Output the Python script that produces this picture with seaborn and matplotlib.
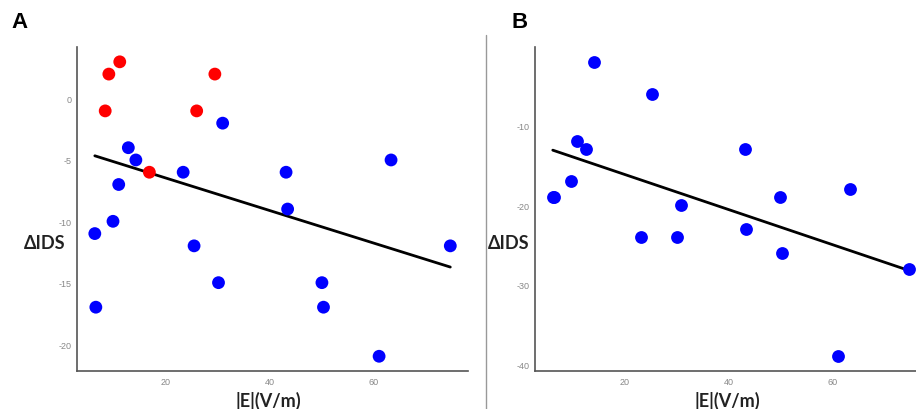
"""Scatter plots of ΔIDS against |E| with linear fits (panels A and B)."""
import numpy as np
import pandas as pd
import matplotlib
matplotlib.use("Agg")
import matplotlib.pyplot as plt
import seaborn as sns

# Panel A: red group
red_e = [9.0, 11.1, 8.3, 29.4, 25.9, 16.8]
red_ids = [2, 3, -1, 2, -1, -6]

# Panel A: blue group (same electrodes reused in panel B)
blue_e = [30.9, 12.75, 14.2, 23.3, 43.1, 63.3, 10.9, 43.4, 9.8, 6.3,
          25.4, 74.7, 30.1, 50.0, 6.5, 50.3, 61.0]
blue_ids_a = [-2, -4, -5, -6, -6, -5, -7, -9, -10, -11,
              -12, -12, -15, -15, -17, -17, -21]

# Panel B values for the same |E| points
blue_ids_b = [-20, -13, -2, -24, -13, -18, -12, -23, -17, -19,
              -6, -28, -24, -19, -19, -26, -39]

x_ticks = [20, 40, 60]
y_ticks_a = [0, -5, -10, -15, -20]
y_ticks_b = [-10, -20, -30, -40]

LABEL_FONT = ["Lato", "DejaVu Sans"]


def expand(values, frac=0.05):
    lo, hi = min(values), max(values)
    pad = (hi - lo) * frac
    return lo - pad, hi + pad


def style_axes(ax, yticks):
    sns.despine(ax=ax)
    for side in ("left", "bottom"):
        ax.spines[side].set_color("#555555")
        ax.spines[side].set_linewidth(1.2)
    ax.set_xticks(x_ticks)
    ax.set_yticks(yticks)
    ax.tick_params(axis="both", length=2.5, width=0.8, color="#777777",
                   labelsize=6.5, labelcolor="#888888", pad=1.5)
    ax.grid(False)


def main():
    sns.set_style("white")
    plt.rcParams["font.family"] = ["Liberation Sans", "DejaVu Sans"]
    plt.rcParams["axes.unicode_minus"] = False

    df_a = pd.DataFrame({
        "E": red_e + blue_e,
        "IDS": red_ids + blue_ids_a,
        "group": ["red"] * len(red_e) + ["blue"] * len(blue_e),
    })
    df_b = pd.DataFrame({"E": blue_e, "IDS": blue_ids_b})

    fig = plt.figure(figsize=(9.16, 4.10), dpi=100)
    ax_a = fig.add_axes([0.0841, 0.0927, 0.4269, 0.790])
    ax_b = fig.add_axes([0.584, 0.0927, 0.428, 0.790])

    # Panel A
    sns.regplot(data=df_a, x="E", y="IDS", ci=None, scatter=False, ax=ax_a,
                line_kws={"color": "black", "linewidth": 2})
    sns.scatterplot(data=df_a, x="E", y="IDS", hue="group",
                    palette={"red": "#ff0000", "blue": "#0000ff"},
                    s=85, linewidth=0, legend=False, ax=ax_a, zorder=3)
    ax_a.set_xlim(*expand(df_a["E"]))
    ax_a.set_ylim(*expand(df_a["IDS"]))
    style_axes(ax_a, y_ticks_a)

    # Panel B
    sns.regplot(data=df_b, x="E", y="IDS", ci=None, scatter=False, ax=ax_b,
                line_kws={"color": "black", "linewidth": 2})
    sns.scatterplot(data=df_b, x="E", y="IDS", color="#0000ff",
                    s=85, linewidth=0, ax=ax_b, zorder=3)
    ax_b.set_xlim(*expand(df_b["E"]))
    ax_b.set_ylim(*expand(df_b["IDS"]))
    style_axes(ax_b, y_ticks_b)

    # axis titles
    for ax, ylab_x in ((ax_a, -0.03), (ax_b, -0.013)):
        ax.set_xlabel("|E|(V/m)", fontsize=13, fontweight="bold",
                      family=LABEL_FONT, color="#222222", va="center")
        ax.xaxis.set_label_coords(0.49, -0.09)
        ax.set_ylabel("ΔIDS", fontsize=13, fontweight="bold",
                      family=LABEL_FONT, color="#222222",
                      rotation=0, ha="right", va="center")
        ax.yaxis.set_label_coords(ylab_x, 0.398)

    # panel letters and divider
    fig.text(0.012, 0.946, "A", fontsize=16, fontweight="bold",
             color="black", va="center")
    fig.text(0.558, 0.946, "B", fontsize=16, fontweight="bold",
             color="black", va="center")
    fig.add_artist(plt.Line2D([0.5303, 0.5303], [0.0, 0.912],
                              transform=fig.transFigure,
                              color="#999999", linewidth=1))

    fig.savefig("out.png", dpi=100)
    plt.close(fig)


if __name__ == "__main__":
    main()
